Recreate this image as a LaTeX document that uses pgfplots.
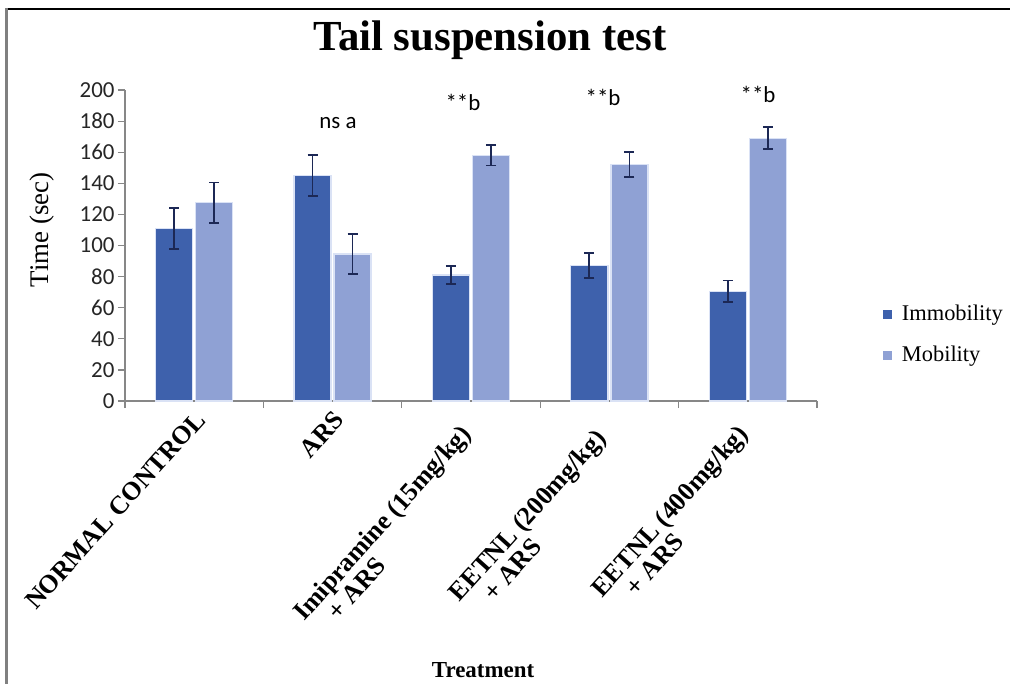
\documentclass[border=0pt]{standalone}
\usepackage{pgfplots}
\pgfplotsset{compat=1.18}
\usepackage{fontspec}
\setmainfont{Liberation Serif}
\newfontfamily\carlito{Carlito}
\usetikzlibrary{calc}

\definecolor{immob}{RGB}{62,97,172}
\definecolor{mob}{RGB}{143,161,212}
\definecolor{barline}{RGB}{218,226,245}
\definecolor{errc}{RGB}{28,40,85}
\definecolor{axgray}{RGB}{135,135,135}

\begin{document}
\begin{tikzpicture}
\begin{axis}[
  name=ax,
  width=692bp, height=311bp, scale only axis,
  xmin=-0.5, xmax=4.5,
  ymin=0, ymax=200,
  ytick={0,20,...,200},
  xtick={0,1,2,3,4},
  minor xtick={-0.5,0.5,...,4.5},
  xticklabels={NORMAL CONTROL, ARS,
    {Imipramine (15mg/kg)\hspace*{18bp}\\\hspace*{0.9em}+ ARS},
    {EETNL (200mg/kg)\hspace*{24bp}\\\hspace*{0.9em}+ ARS},
    {EETNL (400mg/kg)\hspace*{18bp}\\\hspace*{0.9em}+ ARS}},
  axis x line*=bottom, axis y line*=left,
  axis line style={axgray, line width=1.4bp},
  tick align=outside,
  major tick length=7bp, minor tick length=7bp,
  tick style={axgray, line width=1.2bp},
  major x tick style={draw=none},
  /pgf/number format/assume math mode=true,
  yticklabel style={font=\fontsize{23}{23}\carlito, text=black!85},
  xticklabel style={font=\fontsize{26}{25}\selectfont\bfseries, rotate=48, anchor=north east, align=left, inner sep=1bp},
  ybar=3bp, bar width=37bp,
  clip=false,
  legend style={at={(rel axis cs:1.095,0.315)}, anchor=north west, draw=none, fill=none,
    font=\fontsize{22.5}{22.5}\selectfont, row sep=20bp, inner sep=0pt},
  legend cell align=left,
  legend image code/.code={\fill[#1, draw=none] (0bp,-5bp) rectangle (9bp,4bp);},
  error bars/y dir=both, error bars/y explicit,
  error bars/error bar style={errc, line width=1.8bp},
  error bars/error mark options={errc, line width=1.8bp, mark size=5bp, rotate=90},
]
\addplot[fill=immob, draw=barline, line width=1.2bp] coordinates {
  (0,111) +- (0,13)
  (1,145) +- (0,13)
  (2,81)  +- (0,6)
  (3,87)  +- (0,8)
  (4,70.5) +- (0,7)
};
\addplot[fill=mob, draw=barline, line width=1.2bp] coordinates {
  (0,127.5) +- (0,13)
  (1,94.5) +- (0,13)
  (2,158) +- (0,6.5)
  (3,152) +- (0,8)
  (4,169) +- (0,7)
};
\legend{\hspace*{8bp}Immobility, \hspace*{8bp}Mobility}

\node[font=\fontsize{43}{43}\selectfont\bfseries] at (axis cs:2.137,232) {Tail suspension test};
\node[font=\fontsize{27}{27}\selectfont, rotate=90] at (axis cs:-1.1,110) {Time (sec)};
\node[font=\fontsize{23}{23}\selectfont\bfseries] at (axis cs:2.087,-173) {Treatment};
\node[font=\fontsize{23}{23}\carlito] at (axis cs:1.039,179) {ns a};
\node[font=\fontsize{23}{23}\carlito] at (axis cs:1.942,192) {**b};
\node[font=\fontsize{23}{23}\carlito] at (axis cs:2.954,195) {**b};
\node[font=\fontsize{23}{23}\carlito] at (axis cs:4.074,197) {**b};
\end{axis}
\pgfresetboundingbox
\path[use as bounding box] ($(ax.south west)+(-125bp,-283bp)$) rectangle ($(ax.south west)+(885bp,401bp)$);
\draw[black, line width=2bp] ($(ax.south west)+(-118bp,392bp)$) -- ($(ax.south west)+(886bp,392bp)$);
\draw[gray, line width=3bp] ($(ax.south west)+(-118bp,393bp)$) -- ($(ax.south west)+(-118bp,-284bp)$);
\end{tikzpicture}
\end{document}
